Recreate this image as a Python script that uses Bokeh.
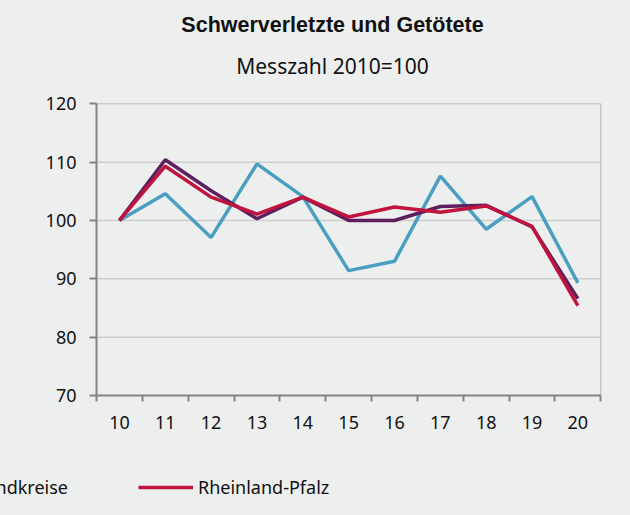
from bokeh.plotting import figure
from bokeh.models import (Range1d, FixedTicker, Label, Legend, LegendItem,
                          GlobalInlineStyleSheet)
from bokeh.embed import file_html
from bokeh.resources import INLINE

# ---- data -------------------------------------------------------------
years = [10, 11, 12, 13, 14, 15, 16, 17, 18, 19, 20]
year_labels = ["10", "11", "12", "13", "14", "15", "16", "17", "18", "19", "20"]
kreisfreie_staedte = [100, 104.6, 97.1, 109.7, 104.1, 91.4, 93.0, 107.6, 98.5, 104.1, 89.3]
landkreise = [100, 110.4, 105.1, 100.3, 104.0, 100.0, 100.0, 102.4, 102.6, 98.9, 86.6]
rheinland_pfalz = [100, 109.3, 104.0, 101.1, 104.0, 100.6, 102.3, 101.4, 102.5, 99.0, 85.4]
y_ticks = [70, 80, 90, 100, 110, 120]

title_text = "Schwerverletzte und Getötete"
subtitle_text = "Messzahl 2010=100"
series_names = ["Kreisfreie Städte", "Landkreise", "Rheinland-Pfalz"]

# ---- layout / style ---------------------------------------------------
BG = "#EDEFEE"
C_BLUE = "#4A9EC2"
C_PURPLE = "#5E1F5E"
C_RED = "#C0143E"
C_AXIS = "#838383"
C_GRID = "#CDCDCD"
FONT = "Noto Sans"
W, H = 614, 499
PX_LEFT, PX_RIGHT, PX_TOP, PX_BOTTOM = 96, 600.3, 103.3, 395

# the plot frame covers the whole canvas; axes sit at fixed data locations
x_lo, x_hi = years[0] - 0.5, years[-1] + 0.5
y_lo, y_hi = y_ticks[0], y_ticks[-1]
kx = (PX_RIGHT - PX_LEFT) / (x_hi - x_lo)
ky = (PX_BOTTOM - PX_TOP) / (y_hi - y_lo)
x_range = Range1d(x_lo - PX_LEFT / kx, x_hi + (W - PX_RIGHT) / kx)
y_range = Range1d(y_lo - (H - PX_BOTTOM) / ky, y_hi + PX_TOP / ky)

p = figure(width=W, height=H, output_backend="svg", toolbar_location=None,
           title_location=None, x_range=x_range, y_range=y_range,
           min_border_left=0, min_border_right=0,
           min_border_top=0, min_border_bottom=0)
p.stylesheets = [GlobalInlineStyleSheet(css=f"body {{ background: {BG}; }}")]
p.background_fill_color = BG
p.border_fill_color = BG
p.outline_line_color = None
p.grid.visible = False

# grid lines and top/right frame border of the plot area
grid_vals = y_ticks[1:]
p.segment(x0=x_lo, x1=x_hi, y0=grid_vals, y1=grid_vals,
          line_color=C_GRID, line_width=1.5)
p.segment(x0=x_hi, x1=x_hi, y0=y_lo, y1=y_hi, line_color="#C4C4C4", line_width=1.5)

# y axis
p.yaxis.fixed_location = x_lo
p.yaxis.bounds = (y_lo, y_hi)
p.yaxis.ticker = FixedTicker(ticks=y_ticks)
p.yaxis.axis_line_color = C_AXIS
p.yaxis.axis_line_width = 2
p.yaxis.major_tick_line_color = C_AXIS
p.yaxis.major_tick_line_width = 2
p.yaxis.major_tick_out = 7
p.yaxis.major_tick_in = 0
p.yaxis.minor_tick_line_color = None
p.yaxis.major_label_text_font = FONT
p.yaxis.major_label_text_font_size = "18px"
p.yaxis.major_label_text_color = "#111111"
p.yaxis.major_label_standoff = 13

# x axis: labels at centers (major), ticks at boundaries (minor)
boundaries = [y - 0.5 for y in years] + [years[-1] + 0.5]
p.xaxis.fixed_location = y_lo
p.xaxis.bounds = (x_lo, x_hi)
p.xaxis.ticker = FixedTicker(ticks=years, minor_ticks=boundaries)
p.xaxis.major_label_overrides = {y: lab for y, lab in zip(years, year_labels)}
p.xaxis.axis_line_color = C_AXIS
p.xaxis.axis_line_width = 2
p.xaxis.major_tick_line_color = None
p.xaxis.major_tick_out = 0
p.xaxis.major_tick_in = 0
p.xaxis.minor_tick_line_color = C_AXIS
p.xaxis.minor_tick_line_width = 2
p.xaxis.minor_tick_out = 6
p.xaxis.minor_tick_in = 0
p.xaxis.major_label_text_font = FONT
p.xaxis.major_label_text_font_size = "18px"
p.xaxis.major_label_text_color = "#111111"
p.xaxis.major_label_standoff = 14

# lines
line_kw = dict(line_width=3.5)
r_blue = p.line(years, kreisfreie_staedte, line_color=C_BLUE, **line_kw)
r_purple = p.line(years, landkreise, line_color=C_PURPLE, **line_kw)
r_red = p.line(years, rheinland_pfalz, line_color=C_RED, **line_kw)

# titles
p.add_layout(Label(x=332, y=H - 24.5, x_units="screen", y_units="screen",
                   text=title_text, text_font="Liberation Sans",
                   text_font_style="bold", text_font_size="21.5px",
                   text_color="#111111", text_align="center",
                   text_baseline="alphabetic"))
p.add_layout(Label(x=332, y=H - 65, x_units="screen", y_units="screen",
                   text=subtitle_text, text_font=FONT,
                   text_font_size="21px", text_color="#111111",
                   text_align="center", text_baseline="alphabetic"))

# legend (its left part runs off the picture, as in the reference)
legend = Legend(items=[LegendItem(label=series_names[1], renderers=[r_purple]),
                       LegendItem(label=series_names[2], renderers=[r_red])],
                location=(-84, 0), orientation="horizontal",
                glyph_width=55, glyph_height=20, label_standoff=5,
                padding=0, margin=0, spacing=70,
                border_line_color=None, background_fill_alpha=0,
                label_text_font=FONT, label_text_font_size="18px",
                label_text_color="#111111")
p.add_layout(legend, "center")

open("out.html", "w").write(file_html(p, INLINE))
